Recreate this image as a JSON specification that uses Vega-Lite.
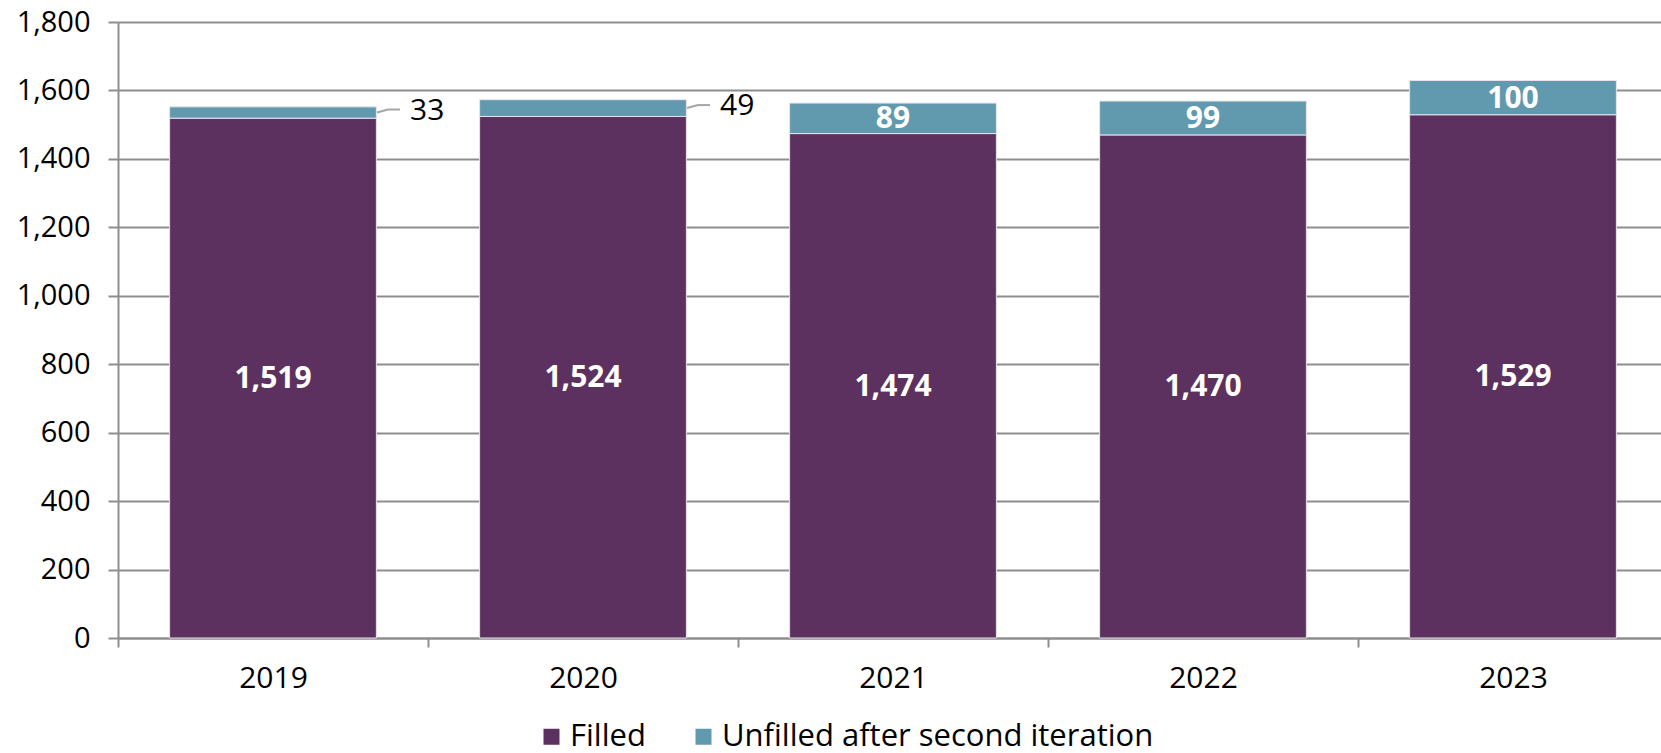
{
  "$schema": "https://vega.github.io/schema/vega-lite/v6.json",
  "autosize": "none",
  "width": 1550,
  "height": 616,
  "padding": {"left": 118, "top": 22, "right": 0, "bottom": 115},
  "background": "white",
  "config": {
    "font": "Open Sans",
    "view": {"stroke": null}
  },
  "data": {
    "values": [
      {"year": "2019", "series": "Filled", "value": 1519},
      {"year": "2019", "series": "Unfilled after second iteration", "value": 33},
      {"year": "2020", "series": "Filled", "value": 1524},
      {"year": "2020", "series": "Unfilled after second iteration", "value": 49},
      {"year": "2021", "series": "Filled", "value": 1474},
      {"year": "2021", "series": "Unfilled after second iteration", "value": 89},
      {"year": "2022", "series": "Filled", "value": 1470},
      {"year": "2022", "series": "Unfilled after second iteration", "value": 99},
      {"year": "2023", "series": "Filled", "value": 1529},
      {"year": "2023", "series": "Unfilled after second iteration", "value": 100}
    ]
  },
  "encoding": {
    "x": {
      "field": "year", "type": "nominal",
      "scale": {"paddingInner": 0, "paddingOuter": 0},
      "axis": {
        "title": null, "labelAngle": 0, "labelFontSize": 30, "labelColor": "#000000",
        "labelPadding": 16, "tickBand": "extent", "tickSize": 9, "tickColor": "#8e8e8e",
        "tickWidth": 2, "domainColor": "#8e8e8e", "domainWidth": 2, "grid": false
      }
    }
  },
  "layer": [
    {
      "mark": {"type": "bar", "width": {"band": 0.667}, "stroke": "#e8e3ea", "strokeWidth": 1},
      "encoding": {
        "y": {
          "field": "value", "type": "quantitative", "stack": "zero",
          "scale": {"domain": [0, 1800], "nice": false},
          "axis": {
            "title": null, "values": [0, 200, 400, 600, 800, 1000, 1200, 1400, 1600, 1800],
            "format": ",d", "labelFontSize": 29, "labelColor": "#000000", "labelPadding": 18,
            "tickSize": 10, "tickColor": "#8e8e8e", "tickWidth": 2,
            "gridColor": "#8e8e8e", "gridWidth": 2, "domainColor": "#8e8e8e", "domainWidth": 2
          }
        },
        "color": {
          "field": "series", "type": "nominal",
          "scale": {"domain": ["Filled", "Unfilled after second iteration"], "range": ["#5c3160", "#6199ae"]},
          "legend": {
            "title": null, "orient": "none", "direction": "horizontal",
            "legendX": 418, "legendY": 699, "symbolType": "square", "symbolSize": 256,
            "symbolStrokeWidth": 0, "labelFontSize": 31, "labelColor": "#000000",
            "labelOffset": 3, "columnPadding": 42, "labelLimit": 600
          }
        },
        "order": {"field": "series", "sort": "ascending"}
      }
    },
    {
      "transform": [
        {"stack": "value", "groupby": ["year"], "sort": [{"field": "series", "order": "ascending"}], "as": ["y0", "y1"]},
        {"fold": ["y0", "y1"], "as": ["edge", "pos"]},
        {"aggregate": [{"op": "mean", "field": "pos", "as": "mid"}], "groupby": ["year", "series", "value"]}
      ],
      "layer": [
        {
          "transform": [{"filter": "datum.value >= 50"}],
          "mark": {"type": "text", "font": "Open Sans", "fontWeight": "bold", "fontSize": 30, "color": "#ffffff", "baseline": "middle", "align": "center", "dy": 1},
          "encoding": {
            "y": {"field": "mid", "type": "quantitative"},
            "text": {"field": "value", "type": "quantitative", "format": ",d"}
          }
        },
        {
          "transform": [{"filter": "datum.value < 50"}],
          "mark": {"type": "text", "fontSize": 30, "color": "#000000", "baseline": "middle", "align": "left", "dx": 137, "dy": -2},
          "encoding": {
            "y": {"field": "mid", "type": "quantitative"},
            "text": {"field": "value", "type": "quantitative", "format": ",d"}
          }
        },
        {
          "transform": [{"filter": "datum.value < 50"}],
          "mark": {"type": "rule", "color": "#a6a6a6", "strokeWidth": 2, "xOffset": 104, "x2Offset": 115, "y2Offset": -3},
          "encoding": {
            "y": {"field": "mid", "type": "quantitative"},
            "y2": {"field": "mid"},
            "x2": {"field": "year"}
          }
        },
        {
          "transform": [{"filter": "datum.value < 50"}],
          "mark": {"type": "rule", "color": "#a6a6a6", "strokeWidth": 2, "xOffset": 115, "x2Offset": 127, "yOffset": -3, "y2Offset": -3},
          "encoding": {
            "y": {"field": "mid", "type": "quantitative"},
            "y2": {"field": "mid"},
            "x2": {"field": "year"}
          }
        }
      ]
    }
  ]
}
